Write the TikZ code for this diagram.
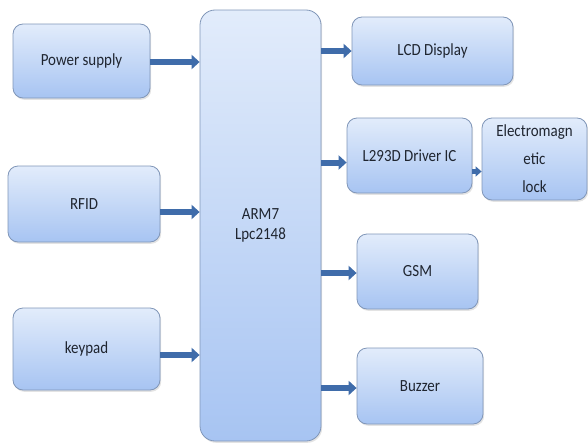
\documentclass[tikz,border=0pt]{standalone}
\usepackage{fontspec}
\setmainfont{Carlito}[FakeStretch=0.88]
\usetikzlibrary{arrows.meta,shadows}
\definecolor{boxtop}{HTML}{E2ECFB}
\definecolor{boxbot}{HTML}{A7C4F2}
\definecolor{boxline}{HTML}{8096B8}
\definecolor{arrowblue}{HTML}{3F6CAA}
\definecolor{txt}{HTML}{1F2530}
\tikzset{
  blk/.style={draw=boxline, line width=0.8pt, rounded corners=10pt,
    top color=boxtop, bottom color=boxbot, text=txt, align=center,
    font=\fontsize{17}{20}\selectfont, inner sep=2pt,
    drop shadow={opacity=0.22, shadow xshift=1.2pt, shadow yshift=-1.8pt}},
  arr/.style={draw=arrowblue, line width=6pt, -{Triangle[width=14pt,length=8pt]}},
  arrs/.style={draw=arrowblue, line width=4.5pt, -{Triangle[width=10pt,length=6pt]}}
}
\begin{document}
\begin{tikzpicture}[x=1pt,y=-1pt]
\useasboundingbox (0,0) rectangle (588,447);
\node[blk, minimum width=121pt, minimum height=431pt, rounded corners=15pt] (arm) at (260.5,225.5) {ARM7\\Lpc2148};
\node[blk, minimum width=137pt, minimum height=74pt] (pow) at (81.5,61) {Power supply};
\node[blk, minimum width=152pt, minimum height=76pt] (rfid) at (84,204) {RFID};
\node[blk, minimum width=147pt, minimum height=82pt] (key) at (86.5,349) {keypad};
\node[blk, minimum width=161pt, minimum height=68pt] (lcd) at (432.5,51) {LCD Display};
\node[blk, minimum width=125pt, minimum height=75pt] (drv) at (409.5,155.5) {L293D Driver IC};
\node[blk, minimum width=105pt, minimum height=82pt, font=\fontsize{17}{28}\selectfont] (lock) at (534.5,159) {Electromagn\\etic\\lock};
\node[blk, minimum width=121pt, minimum height=75pt] (gsm) at (417.5,271.5) {GSM};
\node[blk, minimum width=126pt, minimum height=76pt] (buz) at (420,386) {Buzzer};
\coordinate (p1) at ([yshift=-1pt]pow.east);
\coordinate (r1) at ([yshift=-8pt]rfid.east);
\coordinate (k1) at ([yshift=-6pt]key.east);
\coordinate (d1) at ([yshift=-7pt]drv.west);
\coordinate (g1) at ([yshift=-1.5pt]gsm.west);
\coordinate (b1) at ([yshift=-2pt]buz.west);
\coordinate (d2) at ([yshift=-16pt]drv.east);
\draw[arr] (p1) -- (arm.west |- p1);
\draw[arr] (r1) -- (arm.west |- r1);
\draw[arr] (k1) -- (arm.west |- k1);
\draw[arr] (arm.east |- lcd.west) -- (lcd.west);
\draw[arr] (arm.east |- d1) -- (d1);
\draw[arr] (arm.east |- g1) -- (g1);
\draw[arr] (arm.east |- b1) -- (b1);
\draw[arrs] (d2) -- (lock.west |- d2);
\end{tikzpicture}
\end{document}
